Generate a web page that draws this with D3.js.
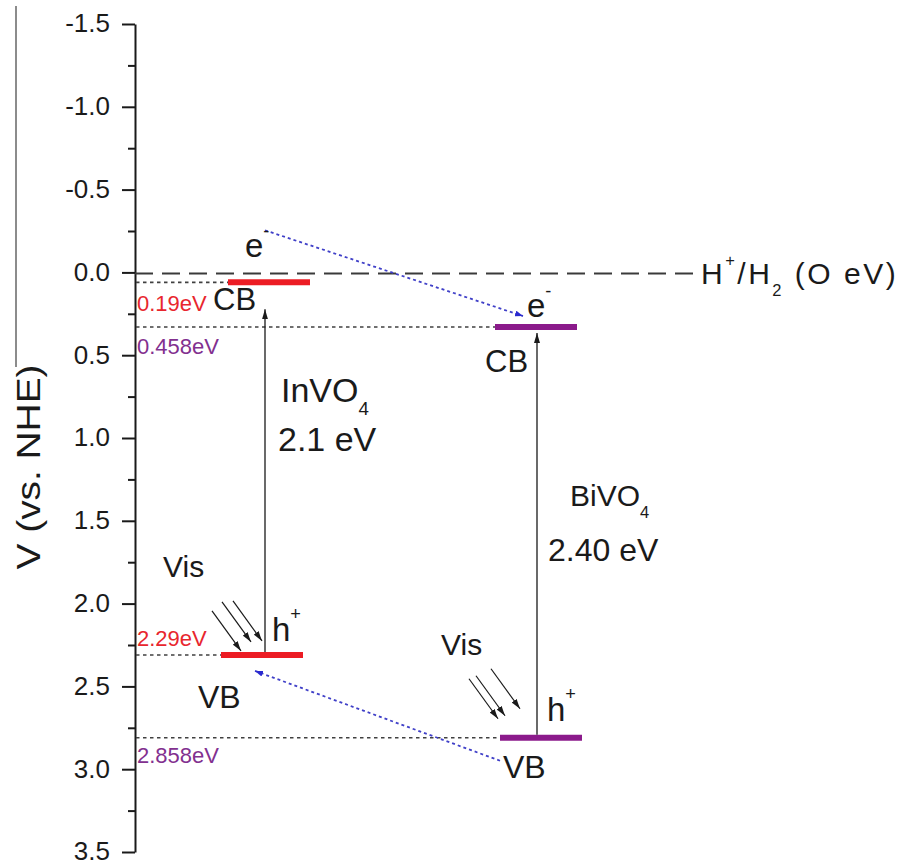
<!DOCTYPE html>
<html>
<head>
<meta charset="utf-8">
<script src="https://cdn.jsdelivr.net/npm/d3@7"></script>
<style>
  body { margin: 0; background: #fff; }
  svg { display: block; font-family: "Liberation Sans", Arial, sans-serif; }
</style>
</head>
<body>
<svg id="chart" width="904" height="866"></svg>
<script>
"use strict";

// Band edges (V vs. NHE), as placed in the figure
const materials = ["InVO4", "BiVO4"];
const cbLevels = [0.06, 0.33];
const vbLevels = [2.31, 2.81];
// texts written on the figure
const cbLabels = ["0.19eV", "0.458eV"];
const vbLabels = ["2.29eV", "2.858eV"];
const gapLabels = ["2.1 eV", "2.40 eV"];
const majorTicks = [-1.5, -1.0, -0.5, 0.0, 0.5, 1.0, 1.5, 2.0, 2.5, 3.0, 3.5];
const minorTicks = [-1.25, -0.75, -0.25, 0.25, 0.75, 1.25, 1.75, 2.25, 2.75, 3.25];
const refLevel = 0.0; // H+/H2

const svg = d3.select("#chart");
const axisX = 135;
const y = d3.scaleLinear().domain([-1.5, 3.5]).range([24, 852]);
const x = d3.scalePoint().domain(materials).range([266, 539]);
const barHalf = 41;
const bandColor = ["#ec1c24", "#8b1a8b"];
const labelColor = ["#e8262e", "#82308f"];
const ink = "#1a1a1a";

// arrow heads
const defs = svg.append("defs");
function addMarker(id, color, w, h) {
  defs.append("marker")
    .attr("id", id)
    .attr("viewBox", `0 0 ${w} ${h}`)
    .attr("refX", w).attr("refY", h / 2)
    .attr("markerWidth", w).attr("markerHeight", h)
    .attr("markerUnits", "userSpaceOnUse")
    .attr("orient", "auto")
    .append("path")
      .attr("d", `M0,0L${w},${h / 2}L0,${h}Z`)
      .attr("fill", color);
}
addMarker("headBlack", ink, 10, 6);
addMarker("headBlue", "#2a2ad0", 8, 6);

// text with sub / superscripts : parts = [[string, "sup"|"sub"|null], ...]
function richText(px, py, parts, size, fill) {
  const t = svg.append("text")
    .attr("x", px).attr("y", py)
    .attr("font-size", size)
    .attr("fill", fill || ink);
  let shift = 0;
  parts.forEach(function(p) {
    const target = p[1] === "sup" ? -0.62 * size : p[1] === "sub" ? 0.4 * size : 0;
    t.append("tspan")
      .attr("dy", target - shift)
      .attr("font-size", p[1] ? size * 0.55 : size)
      .text(p[0]);
    shift = target;
  });
  return t;
}

// stray frame line on the left of the picture
svg.append("line")
  .attr("x1", 16).attr("x2", 16).attr("y1", 6).attr("y2", 367)
  .attr("stroke", "#8c8c8c").attr("stroke-width", 2);

// Y axis
const gAxis = svg.append("g").attr("transform", `translate(${axisX},0)`);
gAxis.call(d3.axisLeft(y)
  .tickValues(majorTicks)
  .tickSize(13).tickPadding(12).tickSizeOuter(0)
  .tickFormat(d => d.toFixed(1)));
gAxis.append("g")
  .call(d3.axisLeft(y).tickValues(minorTicks).tickSize(7).tickSizeOuter(0).tickFormat(""))
  .select(".domain").remove();
gAxis.selectAll("line, path").attr("stroke", ink).attr("stroke-width", 2);
gAxis.selectAll("text")
  .attr("dy", "0.3em")
  .style("font-size", "26px")
  .style("font-family", "'Liberation Sans', Arial, sans-serif")
  .attr("fill", ink);

svg.append("text")
  .attr("transform", "translate(40,467) rotate(-90)")
  .attr("text-anchor", "middle")
  .attr("font-size", 33)
  .attr("textLength", 205)
  .attr("lengthAdjust", "spacingAndGlyphs")
  .attr("fill", ink)
  .text("V (vs. NHE)");

// H+/H2 reference line
svg.append("line")
  .attr("x1", axisX).attr("x2", 700)
  .attr("y1", y(refLevel) + 1).attr("y2", y(refLevel) + 1)
  .attr("stroke", "#3a3a3a").attr("stroke-width", 2)
  .attr("stroke-dasharray", "18,9");
richText(701, y(refLevel) + 12, [["H", null], ["+", "sup"], ["/H", null], ["2", "sub"], [" (O eV)", null]], 30)
  .attr("letter-spacing", "2.5px");

// dotted guides from the axis to each band edge
// shift: small horizontal offset of each bar from the material centre
const levels = materials.flatMap((m, i) => [
  {m: m, i: i, v: cbLevels[i], label: cbLabels[i], dy: i === 0 ? 29 : 27, shift: i === 0 ? 3 : -3},
  {m: m, i: i, v: vbLevels[i], label: vbLabels[i], dy: i === 0 ? -9 : 25, shift: i === 0 ? -4 : 2}
]);

svg.selectAll(".guide")
  .data(levels)
  .enter()
  .append("line")
    .attr("class", "guide")
    .attr("x1", axisX + 1)
    .attr("x2", d => x(d.m) + d.shift - barHalf)
    .attr("y1", d => y(d.v)).attr("y2", d => y(d.v))
    .attr("stroke", "#404040").attr("stroke-width", 1.6)
    .attr("stroke-dasharray", "3.5,3.5");

svg.selectAll(".lvl-label")
  .data(levels)
  .enter()
  .append("text")
    .attr("class", "lvl-label")
    .attr("x", axisX + 2)
    .attr("y", d => y(d.v) + d.dy)
    .attr("font-size", 22)
    .attr("fill", d => labelColor[d.i])
    .text(d => d.label);

// band bars
svg.selectAll(".band")
  .data(levels)
  .enter()
  .append("line")
    .attr("class", "band")
    .attr("x1", d => x(d.m) + d.shift - barHalf)
    .attr("x2", d => x(d.m) + d.shift + barHalf)
    .attr("y1", d => y(d.v)).attr("y2", d => y(d.v))
    .attr("stroke", d => bandColor[d.i])
    .attr("stroke-width", 6);

// band gap excitation arrows
const tipGap = [27, 6];
svg.selectAll(".gap")
  .data(materials)
  .enter()
  .append("line")
    .attr("class", "gap")
    .attr("x1", (d, i) => x(d) - 1 - i)
    .attr("x2", (d, i) => x(d) - 1 - i)
    .attr("y1", (d, i) => y(vbLevels[i]) - 3)
    .attr("y2", (d, i) => y(cbLevels[i]) + tipGap[i])
    .attr("stroke", ink).attr("stroke-width", 1.3)
    .attr("marker-end", "url(#headBlack)");

// visible light arrows (end offsets from the VB bar centre)
const visEnds = [
  [[-25, -4], [-15, -13], [-4, -14]],
  [[-41, -19], [-34, -22], [-19, -29]]
];
materials.forEach(function(m, i) {
  visEnds[i].forEach(function(e) {
    const ex = x(m) + e[0], ey = y(vbLevels[i]) + e[1];
    svg.append("line")
      .attr("x1", ex - 29).attr("y1", ey - 40)
      .attr("x2", ex).attr("y2", ey)
      .attr("stroke", ink).attr("stroke-width", 1.2)
      .attr("marker-end", "url(#headBlack)");
  });
});

// charge transfer (blue dotted)
const c0 = x(materials[0]), c1 = x(materials[1]);
const transfers = [
  {x1: c0 - 1, y1: y(cbLevels[0]) - 52, x2: c1 - 16, y2: y(cbLevels[1]) - 11},
  {x1: c1 - 39, y1: y(vbLevels[1]) + 23, x2: c0 - 11, y2: y(vbLevels[0]) + 16}
];
svg.selectAll(".transfer")
  .data(transfers)
  .enter()
  .append("line")
    .attr("class", "transfer")
    .attr("x1", d => d.x1).attr("y1", d => d.y1)
    .attr("x2", d => d.x2).attr("y2", d => d.y2)
    .attr("stroke", "#4040c8").attr("stroke-width", 1.8)
    .attr("stroke-dasharray", "3,3")
    .attr("marker-end", "url(#headBlue)");

// annotations
richText(c0 - 21, y(cbLevels[0]) - 25, [["e", null], ["-", "sup"]], 33);
richText(c0 - 53, y(cbLevels[0]) + 28, [["CB", null]], 31);
richText(c0 + 15, y(0.78), [["InVO", null], ["4", "sub"]], 34);
richText(c0 + 12, y(1.08), [[gapLabels[0], null]], 34);
richText(c0 - 103, y(1.84), [["Vis", null]], 30);
richText(c0 + 6, y(vbLevels[0]) - 14, [["h", null], ["+", "sup"]], 33);
richText(c0 - 68, y(vbLevels[0]) + 53, [["VB", null]], 32);

richText(c1 - 12, y(cbLevels[1]) - 10, [["e", null], ["-", "sup"]], 33);
richText(c1 - 54, y(cbLevels[1]) + 45, [["CB", null]], 31);
richText(c1 + 31, y(1.41), [["BiVO", null], ["4", "sub"]], 30);
richText(c1 + 9, y(1.74), [[gapLabels[1], null]], 32);
richText(c1 - 98, y(vbLevels[1]) - 83, [["Vis", null]], 30);
richText(c1 + 8, y(vbLevels[1]) - 17, [["h", null], ["+", "sup"]], 33);
richText(c1 - 36, y(vbLevels[1]) + 40, [["VB", null]], 32);
</script>
</body>
</html>
